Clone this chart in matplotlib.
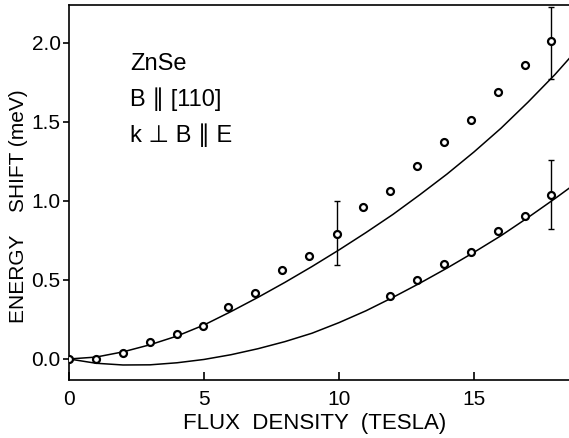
import matplotlib
matplotlib.use("Agg")
import matplotlib.pyplot as plt

# ---- data ----
upper_x = [0, 1, 2, 3, 4, 4.95, 5.9, 6.9, 7.9, 8.9, 9.94, 10.9, 11.9, 12.9, 13.9, 14.9, 15.9, 16.9, 17.85]
upper_y = [0.0, 0.0, 0.04, 0.105, 0.155, 0.21, 0.33, 0.42, 0.56, 0.65, 0.79, 0.96, 1.06, 1.22, 1.37, 1.51, 1.69, 1.86, 2.01]
lower_x = [11.9, 12.9, 13.9, 14.9, 15.9, 16.9, 17.85]
lower_y = [0.40, 0.50, 0.60, 0.68, 0.81, 0.905, 1.04]

# error bars: (x, y, low, high)
err_x = [9.94, 17.85, 17.85]
err_y = [0.79, 2.01, 1.04]
err_lo = [0.595, 1.77, 0.82]
err_hi = [1.00, 2.225, 1.26]

# theory curves (read at points)
curve_x = [0, 1, 2, 3, 4, 5, 6, 7, 8, 9, 10, 11, 12, 13, 14, 15, 16, 17, 18, 18.52]
curve_upper = [0.0, 0.012, 0.045, 0.09, 0.145, 0.215, 0.30, 0.39, 0.485, 0.585, 0.69,
               0.80, 0.915, 1.04, 1.17, 1.31, 1.46, 1.625, 1.80, 1.90]
curve_lower = [0.0, -0.027, -0.038, -0.037, -0.024, -0.003, 0.027, 0.065, 0.11, 0.163, 0.23,
               0.305, 0.39, 0.48, 0.575, 0.675, 0.78, 0.895, 1.015, 1.08]

xticks = [0, 5, 10, 15]
yticks = [0.0, 0.5, 1.0, 1.5, 2.0]

plt.rcParams['font.family'] = ['Liberation Sans', 'DejaVu Sans']

W, H = 569, 438
fig = plt.figure(figsize=(W / 100, H / 100), dpi=100)
ax = fig.add_axes([69 / W, 1 - 380 / H, 1 - 69 / W, (380 - 5) / H])

ax.plot(curve_x, curve_upper, color='black', lw=1.1)
ax.plot(curve_x, curve_lower, color='black', lw=1.1)

ax.plot(upper_x, upper_y, 'o', ms=5, mfc='white', mec='black', mew=1.6, zorder=5)
ax.plot(lower_x, lower_y, 'o', ms=5, mfc='white', mec='black', mew=1.6, zorder=5)

yerr = [[y - lo for y, lo in zip(err_y, err_lo)], [hi - y for y, hi in zip(err_y, err_hi)]]
ax.errorbar(err_x, err_y, yerr=yerr, fmt='none', ecolor='black', elinewidth=1.0,
            capsize=2.5, capthick=1.0, zorder=4)

ax.set_xlim(0, 18.52)
ax.set_ylim(-0.133, 2.24)
ax.set_xticks(xticks)
ax.set_xticklabels([str(t) for t in xticks])
ax.set_yticks(yticks)
ax.set_yticklabels([f"{t:.1f}" for t in yticks])

ax.spines['right'].set_visible(False)
for s in ['left', 'top', 'bottom']:
    ax.spines[s].set_linewidth(1.2)

ax.tick_params(axis='x', direction='in', length=6, width=1.2, labelsize=15, pad=7.5)
ax.tick_params(axis='y', direction='out', length=4.5, width=1.2, labelsize=15, pad=1.5)

fig.text(315 / W, 1 - 423 / H, "FLUX  DENSITY  (TESLA)", fontsize=16, ha='center', va='center')
fig.text(19 / W, 1 - 206.5 / H, "ENERGY    SHIFT (meV)", fontsize=15, rotation=90,
         ha='center', va='center')

fig.text(130 / W, 1 - 70 / H, "ZnSe", fontsize=17, ha='left', va='baseline')
fig.text(130 / W, 1 - 106 / H, "B ∥ [110]", fontsize=17, ha='left', va='baseline')
fig.text(130 / W, 1 - 142 / H, "k ⊥ B ∥ E", fontsize=17, ha='left', va='baseline')

fig.savefig("out.png", dpi=100)
